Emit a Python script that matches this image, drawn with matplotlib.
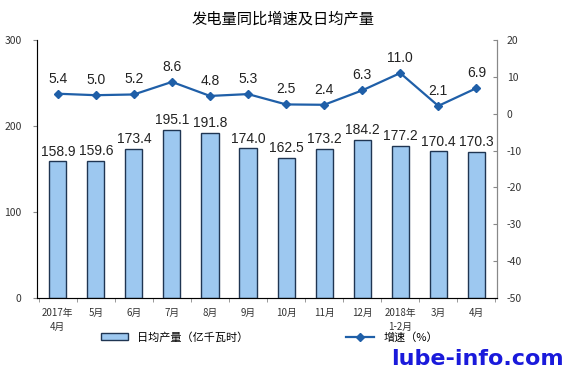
import matplotlib.pyplot as plt
import numpy as np

plt.rcParams['font.family'] = ['Noto Sans CJK SC', 'DejaVu Sans']
plt.rcParams['axes.unicode_minus'] = False

months = ["2017年\n4月", "5月", "6月", "7月", "8月", "9月", "10月", "11月",
          "12月", "2018年\n1-2月", "3月", "4月"]
output = [158.9, 159.6, 173.4, 195.1, 191.8, 174.0, 162.5, 173.2, 184.2, 177.2, 170.4, 170.3]
growth = [5.4, 5.0, 5.2, 8.6, 4.8, 5.3, 2.5, 2.4, 6.3, 11.0, 2.1, 6.9]

x = np.arange(len(months))
fig = plt.figure(figsize=(5.67, 3.69), dpi=100)
ax = fig.add_axes([0.065, 0.192, 0.812, 0.70])

bars = ax.bar(x, output, 0.45, color='#9dc8f0', edgecolor='#1f3552', linewidth=1.0,
              label='日均产量（亿千瓦时）')
ax.bar_label(bars, labels=[f'{v:.1f}' for v in output], padding=2, fontsize=10,
             family='Liberation Sans', color='#222222')
ax.set_ylim(0, 300)
ax.set_xlim(-0.55, len(months) - 0.45)
ax.set_yticks([0, 100, 200, 300])
ax.set_xticks(x)
ax.set_xticklabels(months, fontsize=7, color='#333333', linespacing=1.5)
ax.tick_params(axis='x', length=0, pad=7)
ax.set_xticks(np.arange(len(months) + 1) - 0.5, minor=True)
ax.tick_params(axis='x', which='minor', length=3, color='#888888')
ax.tick_params(axis='y', labelsize=7.5, length=3, color='#888888', labelcolor='#333333',
               pad=8)
ax.spines['top'].set_visible(False)
for s in ['left', 'bottom', 'right']:
    ax.spines[s].set_color('#888888')

ax2 = ax.twinx()
line, = ax2.plot(x, growth, color='#1f5fa8', marker='D', markersize=4, linewidth=1.6,
                 label='增速（%）')
for xi, g in zip(x, growth):
    ax2.annotate(f'{g:.1f}', (xi, g), textcoords='offset points', xytext=(0, 8),
                 ha='center', fontsize=10, family='Liberation Sans', color='#222222')
ax2.set_ylim(-50, 20)
ax2.set_yticks(range(-50, 21, 10))
ax2.tick_params(axis='y', labelsize=7.5, length=3, direction='in', color='#888888',
                labelcolor='#333333', pad=7)
ax2.spines['top'].set_visible(False)
ax2.spines['right'].set_color('#888888')

fig.text(0.5, 0.935, '发电量同比增速及日均产量', ha='center', fontsize=11)
fig.legend([bars, line], ['日均产量（亿千瓦时）', '增速（%）'], loc='lower left',
           bbox_to_anchor=(0.16, 0.045), ncols=2, frameon=False, fontsize=8,
           columnspacing=8.8, handlelength=2.5)
fig.text(0.995, 0.0, 'lube-info.com', ha='right', va='bottom', fontsize=16,
         fontweight='bold', color='#1a1adb', family='DejaVu Sans')

fig.savefig('out.png', dpi=100)
